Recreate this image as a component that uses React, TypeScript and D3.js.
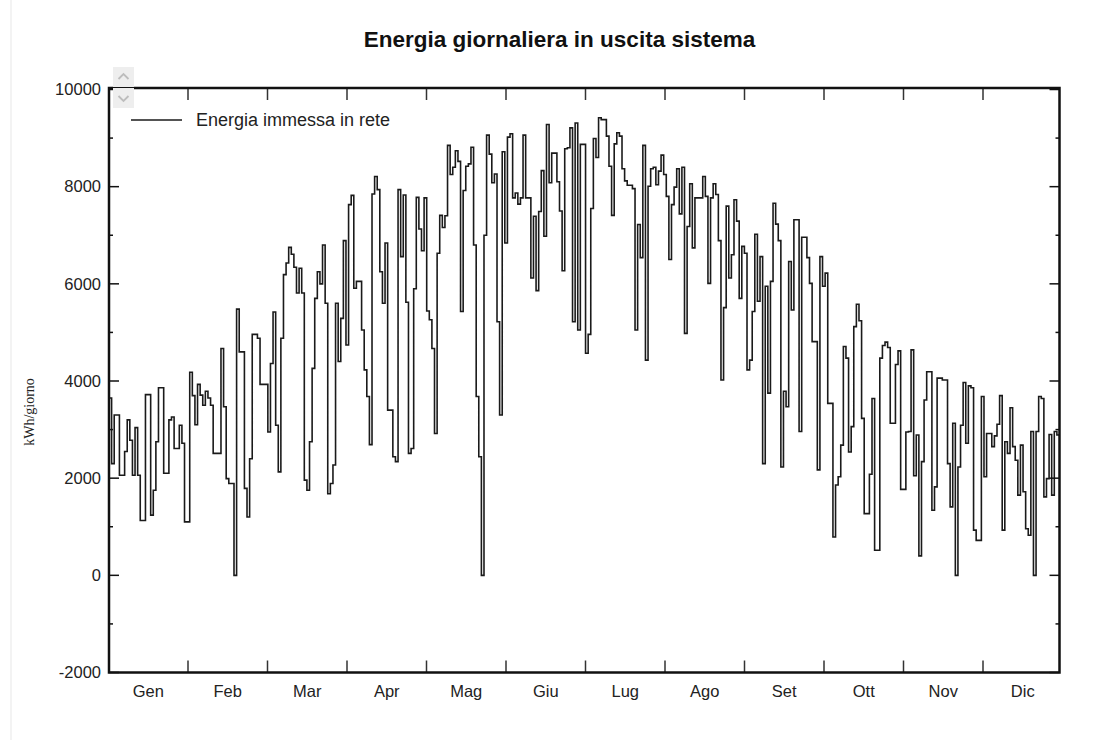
import React from "react";
import * as d3 from "d3";

// Month labels (Italian) and y-axis ticks
const MONTHS = ["Gen", "Feb", "Mar", "Apr", "Mag", "Giu", "Lug", "Ago", "Set", "Ott", "Nov", "Dic"];
const Y_MAJOR = [-2000, 0, 2000, 4000, 6000, 8000, 10000];
const Y_MINOR = [-1000, 1000, 3000, 5000, 7000, 9000];

// Daily energy fed into the grid, kWh/giorno, one array per month
const gen = [3650, 2300, 3300, 3300, 2060, 2060, 2550, 3200, 2780, 2060, 3040, 2060, 1130, 1130, 3720, 3720, 1240, 1750, 2750, 3860, 3860, 2100, 2100, 3200, 3260, 2610, 2610, 3090, 2720, 1100, 1100];
const feb = [4180, 3700, 3100, 3930, 3710, 3500, 3790, 3650, 3500, 2510, 2510, 2510, 4670, 3470, 1990, 1890, 1890, 0, 5480, 4600, 4600, 1790, 1200, 2400, 4960, 4960, 4880, 3930];
const mar = [3930, 3930, 2950, 4360, 5420, 3090, 2130, 4880, 6190, 6430, 6750, 6610, 6340, 5810, 6320, 5810, 1960, 1750, 2750, 4260, 5700, 6250, 6000, 6800, 5600, 1680, 1890, 2270, 5600, 4400, 5290];
const apr = [6890, 4740, 7630, 7820, 5910, 6050, 6050, 5050, 4230, 3680, 2690, 7850, 8210, 7940, 6250, 5600, 6840, 3400, 3400, 2440, 2340, 7940, 6560, 7830, 5620, 2510, 2610, 5900, 7780, 7130];
const mag = [6680, 7770, 5440, 5260, 4670, 2920, 6630, 7410, 7160, 7400, 8850, 8250, 8400, 8740, 8520, 5430, 7920, 8420, 8470, 8810, 6800, 3680, 2440, 0, 7000, 9060, 8670, 8080, 8260, 5220, 3300];
const giu = [8720, 6840, 9020, 9090, 7770, 7870, 7640, 7770, 9060, 7770, 7770, 6120, 7390, 5860, 7490, 8330, 6980, 9280, 8080, 8690, 8690, 8100, 7500, 6270, 8780, 8800, 9210, 5220, 9310, 5050];
const lug = [8870, 8870, 4570, 4960, 7550, 8990, 8600, 9420, 9380, 9380, 9040, 8420, 7410, 8880, 9110, 9040, 8370, 8120, 8030, 8030, 7960, 5050, 7220, 6540, 8850, 4430, 8010, 8370, 8400, 8040, 8320];
const ago = [8650, 8250, 7800, 6500, 7630, 7990, 8370, 7440, 8400, 4980, 7180, 8060, 6740, 7770, 7770, 7770, 8210, 7800, 6010, 7770, 8060, 7840, 6890, 4020, 5510, 7600, 6120, 6600, 7730, 7290, 5700];
const set = [6770, 6630, 4230, 4430, 5430, 7020, 5640, 6560, 2300, 5950, 3750, 6050, 7660, 7230, 6890, 2230, 3790, 3470, 6460, 5460, 7320, 7320, 2960, 6960, 6960, 6540, 6010, 4810, 4810, 2170];
const ott = [6560, 5950, 6220, 3540, 3540, 790, 1860, 2030, 2680, 4710, 4470, 2540, 3060, 5120, 5580, 5240, 3230, 1270, 1270, 2080, 3640, 515, 515, 4470, 4730, 4800, 4690, 3130, 3130, 4340, 4620];
const nov = [1770, 1770, 2950, 2960, 4640, 2050, 2890, 400, 2340, 3610, 4190, 4190, 1340, 1820, 4060, 4060, 4020, 4020, 2300, 1410, 3130, 0, 2230, 3090, 3970, 2720, 3900, 3860, 930, 720];
const dic = [720, 3680, 2030, 2920, 2920, 2650, 2870, 3110, 3700, 930, 2750, 2510, 3450, 2650, 2370, 1650, 2680, 1720, 960, 825, 2960, 0, 2960, 3680, 3640, 1615, 1990, 2900, 1650, 2960, 2890];

const daily: number[] = [...gen, ...feb, ...mar, ...apr, ...mag, ...giu, ...lug, ...ago, ...set, ...ott, ...nov, ...dic];

const W = 1096;
const H = 740;
const PLOT = { left: 109, right: 1059.5, top: 88, bottom: 672.5 };
const SANS = "'Liberation Sans', Arial, sans-serif";

export default function App() {
  const x = d3.scaleLinear().domain([0, daily.length]).range([PLOT.left, PLOT.right]);
  const y = d3.scaleLinear().domain([-2000, 10000]).range([672.5, 89.5]);
  const mx = d3.scaleLinear().domain([0, 12]).range([108.5, 1062.5]);

  const pts: [number, number][] = daily.map((v, i) => [i, v]);
  pts.push([daily.length, daily[daily.length - 1]]);
  const line = d3
    .line<[number, number]>()
    .x((d) => x(d[0]))
    .y((d) => y(d[1]))
    .curve(d3.curveStepAfter);
  const path = line(pts) || "";

  const monthTicks = d3.range(1, 12);

  return (
    <svg
      width={W}
      height={H}
      viewBox={`0 0 ${W} ${H}`}
      style={{ position: "absolute", left: 0, top: 0, background: "#fff" }}
    >
      <rect x={0} y={0} width={W} height={H} fill="#fff" />
      <line x1={11} x2={11} y1={0} y2={H} stroke="#efefef" strokeWidth={1.5} />

      {/* title */}
      <text x={559.5} y={47} textAnchor="middle" fontFamily={SANS} fontWeight="bold" fontSize={22.5} fill="#111">
        Energia giornaliera in uscita sistema
      </text>

      {/* y axis title */}
      <text
        transform={`translate(34, 412) rotate(-90)`}
        textAnchor="middle"
        fontFamily="'Liberation Serif', 'Times New Roman', serif"
        fontSize={14}
        fill="#222"
      >
        kWh/giorno
      </text>

      {/* y tick labels */}
      {Y_MAJOR.map((v) => (
        <text key={v} x={101} y={y(v)} dy="0.35em" textAnchor="end" fontFamily={SANS} fontSize={16.5} fill="#222">
          {v}
        </text>
      ))}

      {/* month labels */}
      {MONTHS.map((m, i) => (
        <text key={m} x={mx(i + 0.5)} y={697} textAnchor="middle" fontFamily={SANS} fontSize={16.5} fill="#222">
          {m}
        </text>
      ))}

      <defs>
        <clipPath id="plot-clip">
          <rect x={PLOT.left} y={PLOT.top} width={PLOT.right - PLOT.left} height={PLOT.bottom - PLOT.top} />
        </clipPath>
      </defs>

      {/* daily step line */}
      <path d={path} fill="none" stroke="#1a1a1a" strokeWidth={1.6} clipPath="url(#plot-clip)" />

      {/* y ticks, inward on both sides */}
      {Y_MAJOR.map((v) => (
        <g key={"mj" + v}>
          <line x1={PLOT.left} x2={PLOT.left + 10} y1={y(v)} y2={y(v)} stroke="#111" strokeWidth={1.5} />
          <line x1={PLOT.right - 10} x2={PLOT.right} y1={y(v)} y2={y(v)} stroke="#111" strokeWidth={1.5} />
        </g>
      ))}
      {Y_MINOR.map((v) => (
        <g key={"mn" + v}>
          <line x1={PLOT.left} x2={PLOT.left + 4} y1={y(v)} y2={y(v)} stroke="#111" strokeWidth={1.5} />
          <line x1={PLOT.right - 4} x2={PLOT.right} y1={y(v)} y2={y(v)} stroke="#111" strokeWidth={1.5} />
        </g>
      ))}

      {/* month ticks, top and bottom */}
      {monthTicks.map((k) => (
        <g key={"mt" + k}>
          <line x1={mx(k)} x2={mx(k)} y1={PLOT.bottom} y2={PLOT.bottom - 12} stroke="#333" strokeWidth={1.5} />
          <line x1={mx(k)} x2={mx(k)} y1={PLOT.top} y2={PLOT.top + 12} stroke="#333" strokeWidth={1.5} />
        </g>
      ))}

      {/* frame */}
      <rect
        x={PLOT.left}
        y={PLOT.top}
        width={PLOT.right - PLOT.left}
        height={PLOT.bottom - PLOT.top}
        fill="none"
        stroke="#111"
        strokeWidth={2.5}
      />

      {/* scroll spinner */}
      <rect x={113} y={67} width={21} height={20} fill="#eeeeee" />
      <rect x={113} y={88} width={21} height={20} fill="#eeeeee" />
      <path d="M118.5,79 L123.5,74 L128.5,79" fill="none" stroke="#bdbdbd" strokeWidth={1.8} />
      <path d="M118.5,96 L123.5,101 L128.5,96" fill="none" stroke="#bdbdbd" strokeWidth={1.8} />

      {/* legend */}
      <line x1={131} x2={182} y1={120} y2={120} stroke="#1a1a1a" strokeWidth={1.6} />
      <text x={196} y={120} dy="0.35em" fontFamily={SANS} fontSize={18} fill="#222">
        Energia immessa in rete
      </text>
    </svg>
  );
}
